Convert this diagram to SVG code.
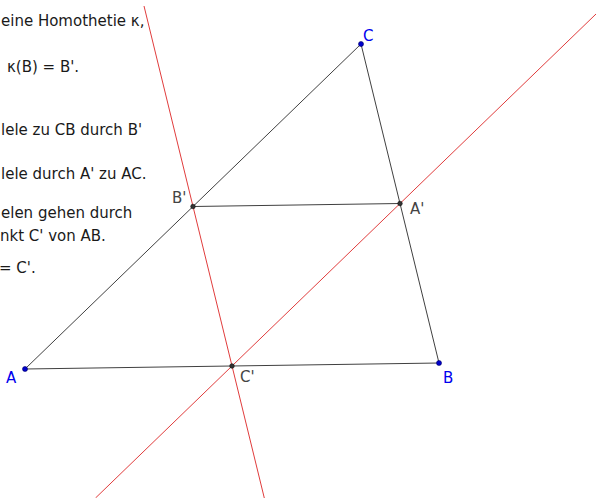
<svg xmlns="http://www.w3.org/2000/svg" width="602" height="498" viewBox="0 0 602 498">
<style>
text{font-family:"DejaVu Sans","Noto Sans",sans-serif;font-size:15px}
.t{fill:#1a1a1a}
.seg{stroke:#404040;stroke-width:1;fill:none}
.red{stroke:#e03c3c;stroke-width:1;fill:none}
.free{fill:#0000cc;stroke:#000066;stroke-width:0.6}
.dep{fill:#333333;stroke:#111111;stroke-width:0.6}
.lf{fill:#0000ee}
.ld{fill:#444444}
</style>
<rect width="602" height="498" fill="#ffffff"/>
<g id="description">
<text class="t" x="1" y="26">eine Homothetie κ,</text>
<text class="t" x="7" y="72">κ(B) = B'.</text>
<text class="t" x="1" y="135">lele zu CB durch B'</text>
<text class="t" x="1" y="179">lele durch A' zu AC.</text>
<text class="t" x="1" y="218">elen gehen durch</text>
<text class="t" x="0" y="241">nkt C' von AB.</text>
<text class="t" x="-1" y="273">= C'.</text>
</g>
<g id="connectors">
<line class="seg" x1="25" y1="369" x2="439" y2="363"/>
<line class="seg" x1="439" y1="363" x2="361" y2="44"/>
<line class="seg" x1="361" y1="44" x2="25" y2="369"/>
<line class="seg" x1="193" y1="206.5" x2="400" y2="203.5"/>
<line class="red" x1="144" y1="6" x2="264.3" y2="498"/>
<line class="red" x1="596" y1="14" x2="95.5" y2="498"/>
</g>
<g id="A"><circle class="free" cx="25" cy="369" r="2.5"/><text class="lf" x="6" y="383">A</text></g>
<g id="B"><circle class="free" cx="439" cy="363" r="2.5"/><text class="lf" x="443" y="383">B</text></g>
<g id="C"><circle class="free" cx="361" cy="44" r="2.5"/><text class="lf" x="363" y="41">C</text></g>
<g id="Bp"><circle class="dep" cx="193" cy="206.5" r="2.3"/><text class="ld" x="172" y="203">B'</text></g>
<g id="Ap"><circle class="dep" cx="400" cy="203.5" r="2.3"/><text class="ld" x="410" y="214">A'</text></g>
<g id="Cp"><circle class="dep" cx="232" cy="366" r="2.3"/><text class="ld" x="240" y="382">C'</text></g>
</svg>
